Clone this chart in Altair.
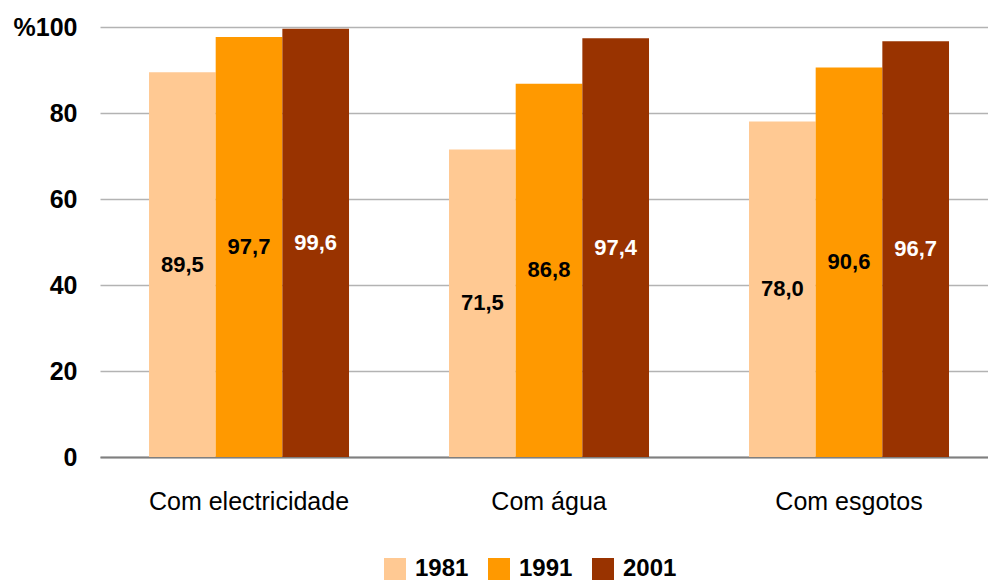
import altair as alt
import pandas as pd

categories = ["Com electricidade", "Com água", "Com esgotos"]
years = ["1981", "1991", "2001"]
v1981 = [89.5, 71.5, 78.0]
v1991 = [97.7, 86.8, 90.6]
v2001 = [99.6, 97.4, 96.7]
y_ticks = [0, 20, 40, 60, 80, 100]

bar_colors = ["#FFC993", "#FF9900", "#993300"]
label_colors = ["#000000", "#000000", "#FFFFFF"]

rows = []
for i, c in enumerate(categories):
    for yr, vals in zip(years, [v1981, v1991, v2001]):
        rows.append({"cat": c, "year": yr, "value": vals[i]})
df = pd.DataFrame(rows)

FONT = "Liberation Sans"

x = alt.X(
    "cat:N", sort=categories, title=None,
    scale=alt.Scale(paddingInner=1 / 3, paddingOuter=0.1467, align=0.557),
    axis=alt.Axis(labelAngle=0, labelFont=FONT, labelFontSize=25, labelColor="black",
                  labelPadding=32, labelLimit=0, ticks=False, domain=True,
                  domainColor="#7f7f7f", domainWidth=2, grid=False),
)
xo = alt.XOffset("year:N", sort=years, scale=alt.Scale(paddingInner=0, paddingOuter=0))

y_axis = alt.Axis(values=y_ticks, labelExpr="datum.value == 100 ? '%100' : datum.label",
                  labelFont=FONT, labelFontSize=25, labelFontWeight="bold",
                  labelColor="black", labelPadding=23, ticks=False, domain=False,
                  grid=True, gridColor="#b3b3b3", gridWidth=1.5, title=None)

base = alt.Chart(df)

bars = base.mark_bar().encode(
    x=x,
    xOffset=xo,
    y=alt.Y("value:Q", title=None, scale=alt.Scale(domain=[0, 100], nice=False), axis=y_axis),
    color=alt.Color(
        "year:N", sort=years,
        scale=alt.Scale(domain=years, range=bar_colors),
        legend=alt.Legend(orient="none", legendX=283, legendY=530, direction="horizontal",
                          title=None, symbolType="square", symbolSize=484,
                          symbolStrokeWidth=0, symbolOpacity=1, labelFont=FONT,
                          labelFontSize=24, labelFontWeight="bold", labelColor="black",
                          labelOffset=8, columnPadding=18, padding=0),
    ),
)

texts = base.transform_calculate(
    mid="datum.value / 2",
    lbl="replace(format(datum.value, '.1f'), '.', ',')",
).mark_text(font=FONT, fontSize=22, fontWeight="bold", baseline="middle", align="center").encode(
    x=x,
    xOffset=xo,
    y=alt.Y("mid:Q", title=None, scale=alt.Scale(domain=[0, 100], nice=False), axis=y_axis),
    text="lbl:N",
    color=alt.Color("year:N", scale=alt.Scale(domain=years, range=label_colors), legend=None),
)

chart = alt.layer(bars, texts).resolve_scale(color="independent").properties(
    width=888, height=430,
    padding={"left": 100, "top": 27, "right": 0, "bottom": 124},
    autosize=alt.AutoSizeParams(type="none"),
    background="white",
).configure_view(stroke=None)

chart.save("out.html", embed_options={"renderer": "svg", "actions": False})
